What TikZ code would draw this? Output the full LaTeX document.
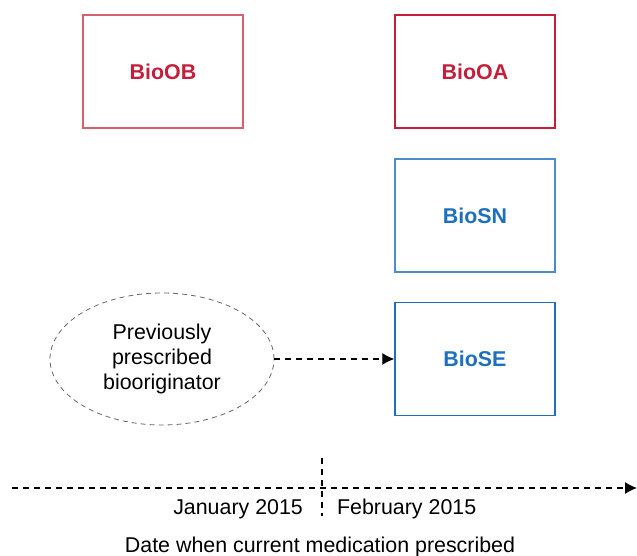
\documentclass[tikz,border=0pt]{standalone}
\usepackage{fontspec}
\setmainfont{Liberation Sans}
\usepackage{xcolor}
\usetikzlibrary{arrows.meta,shapes.geometric}

\definecolor{origred}{RGB}{196,30,58}
\definecolor{origredlight}{RGB}{214,96,110}
\definecolor{simblue}{RGB}{30,112,190}

\tikzset{
  medbox/.style={draw, line width=0.7pt, minimum width=80pt, minimum height=56.5pt, inner sep=0pt, font=\fontsize{10.7}{12.5}\selectfont\bfseries},
  timeline/.style={line width=0.6pt, dash pattern=on 3pt off 2.5pt},
}

\begin{document}
\begin{tikzpicture}[x=0.5pt,y=-0.5pt]
        \useasboundingbox (0,0) rectangle (637,556);

        \node[medbox, draw=origredlight, text=origred] (bioob) at (163, 71.5) {BioOB};
        \node[medbox, draw=origred, text=origred] (biooa) at (475, 71.5) {BioOA};
        \node[medbox, draw=simblue!80, text=simblue] (biosn) at (475, 215.5) {BioSN};
        \node[medbox, draw=simblue, text=simblue] (biose) at (475, 359) {BioSE};

        \node[ellipse, draw=black!60, line width=0.4pt, dash pattern=on 2.5pt off 2pt,
              minimum width=112pt, minimum height=66pt, inner sep=0pt, align=center,
              font=\fontsize{10.7}{12.5}\selectfont] (previous) at (162, 359) {Previously\\prescribed\\biooriginator};
        \draw [timeline, -{Latex[length=6pt,width=6pt]}] (previous.east) -- (biose.west);

        % time axis
        \coordinate (timestart) at (12, 488);
        \coordinate (timeend) at (637, 488);
        \coordinate (splittop) at (322, 458);
        \coordinate (splitbottom) at (322, 516);
        \draw [timeline, -{Latex[length=6pt,width=6pt]}] (timestart) -- (timeend);
        \draw [timeline] (splittop) -- (splitbottom);

        \node [anchor=east, font=\fontsize{10.7}{12.5}\selectfont] (january) at (310, 509) {January 2015};
        \node [anchor=west, font=\fontsize{10.7}{12.5}\selectfont] (february) at (330, 509) {February 2015};
        \node [font=\fontsize{10.7}{12.5}\selectfont] (datelabel) at (320, 547) {Date when current medication prescribed};
    \end{tikzpicture}
\end{document}
